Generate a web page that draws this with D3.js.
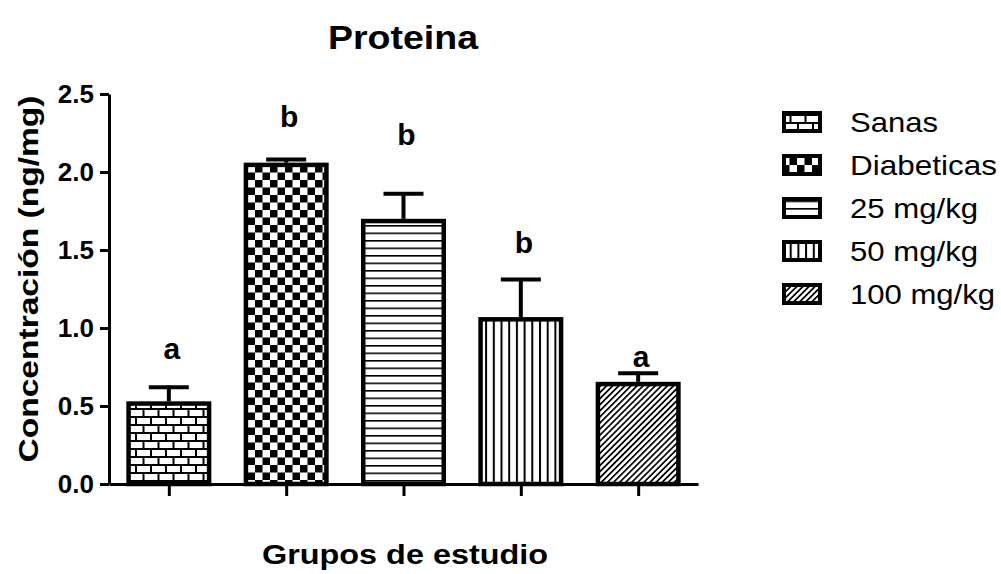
<!DOCTYPE html>
<html>
<head>
<meta charset="utf-8">
<script src="https://cdn.jsdelivr.net/npm/d3@7"></script>
<style>
  html, body { margin: 0; padding: 0; background: #fff; }
  svg { display: block; }
  text { font-family: "Liberation Sans", Arial, sans-serif; fill: #000; }
</style>
</head>
<body>
<svg id="chart" width="1001" height="574"></svg>
<script>
// ---- data ----
const categories = ["Sanas", "Diabeticas", "25 mg/kg", "50 mg/kg", "100 mg/kg"];
const means      = [0.53, 2.06, 1.70, 1.07, 0.655];
const sems       = [0.10, 0.03, 0.17, 0.25, 0.065];
const letters    = ["a", "b", "b", "b", "a"];
const letterAt   = [0.80, 2.29, 2.17, 1.48, 0.75];   // letter baseline, in data units
const yTicks     = [0, 0.5, 1.0, 1.5, 2.0, 2.5];
const patterns   = ["brick", "checker", "hlines", "vlines", "diag"];

const title  = "Proteina";
const yLabel = "Concentración (ng/mg)";
const xLabel = "Grupos de estudio";

// ---- layout ----
const svg = d3.select("#chart");
const X0 = 109, X1 = 698, Y0 = 484, Y1 = 94;

const y = d3.scaleLinear().domain([0, 2.5]).range([Y0, Y1]);
const x = d3.scalePoint().domain(categories).range([X0, X1]).padding(0.51);

// ---- patterns ----
const defs = svg.append("defs");
function pat(id, w, h, transform) {
  const p = defs.append("pattern").attr("id", id)
    .attr("patternUnits", "userSpaceOnUse").attr("width", w).attr("height", h);
  if (transform) p.attr("patternTransform", transform);
  p.append("rect").attr("width", w).attr("height", h).attr("fill", "#fff");
  return p;
}
// brick
{
  const p = pat("brick", 15, 16);
  p.append("rect").attr("x", 0).attr("y", 0).attr("width", 15).attr("height", 2).attr("fill", "#000");
  p.append("rect").attr("x", 0).attr("y", 8).attr("width", 15).attr("height", 2).attr("fill", "#000");
  p.append("rect").attr("x", 0).attr("y", 0).attr("width", 2).attr("height", 8).attr("fill", "#000");
  p.append("rect").attr("x", 7.5).attr("y", 8).attr("width", 2).attr("height", 8).attr("fill", "#000");
}
// checker
{
  const p = pat("checker", 15, 15);
  p.append("rect").attr("x", 0).attr("y", 0).attr("width", 7.5).attr("height", 7.5).attr("fill", "#000");
  p.append("rect").attr("x", 7.5).attr("y", 7.5).attr("width", 7.5).attr("height", 7.5).attr("fill", "#000");
}
// horizontal lines
{
  const p = pat("hlines", 10, 7.5);
  p.append("rect").attr("x", 0).attr("y", 0).attr("width", 10).attr("height", 1.6).attr("fill", "#000");
}
// vertical lines
{
  const p = pat("vlines", 7.7, 10);
  p.append("rect").attr("x", 0).attr("y", 0).attr("width", 2).attr("height", 10).attr("fill", "#000");
}
// diagonal
{
  const p = pat("diag", 4.3, 10, "rotate(45)");
  p.append("rect").attr("x", 0).attr("y", 0).attr("width", 1.7).attr("height", 10).attr("fill", "#000");
}

// ---- bars ----
const barW = 85, bsw = 4.5;
const g = svg.append("g");
g.selectAll("rect.bar").data(categories).join("rect")
  .attr("class", "bar")
  .attr("x", d => x(d) - barW / 2 + bsw / 2)
  .attr("width", barW - bsw)
  .attr("y", (d, i) => y(means[i]) + bsw / 2)
  .attr("height", (d, i) => Y0 - y(means[i]) - bsw / 2)
  .attr("fill", (d, i) => `url(#${patterns[i]})`)
  .attr("stroke", "#000").attr("stroke-width", bsw);

// error bars
const capW = 40, esw = 4;
g.selectAll("line.err").data(categories).join("line")
  .attr("x1", d => x(d)).attr("x2", d => x(d))
  .attr("y1", (d, i) => y(means[i]))
  .attr("y2", (d, i) => y(means[i] + sems[i]))
  .attr("stroke", "#000").attr("stroke-width", esw);
g.selectAll("line.cap").data(categories).join("line")
  .attr("x1", d => x(d) - capW / 2).attr("x2", d => x(d) + capW / 2)
  .attr("y1", (d, i) => y(means[i] + sems[i]) + esw / 2 - 0.5)
  .attr("y2", (d, i) => y(means[i] + sems[i]) + esw / 2 - 0.5)
  .attr("stroke", "#000").attr("stroke-width", esw);

// letters
g.selectAll("text.letter").data(categories).join("text")
  .attr("x", d => x(d) + 3)
  .attr("y", (d, i) => y(letterAt[i]))
  .attr("text-anchor", "middle")
  .attr("font-weight", "bold").attr("font-size", 30)
  .text((d, i) => letters[i]);

// ---- axes ----
const yAxis = svg.append("g").attr("transform", `translate(${X0},0)`)
  .call(d3.axisLeft(y).tickValues(yTicks).tickFormat(d3.format(".1f")).tickSize(9).tickSizeOuter(0).tickPadding(6));
yAxis.select(".domain").attr("stroke-width", 3);
yAxis.selectAll(".tick line").attr("stroke-width", 3);
yAxis.selectAll(".tick text").attr("font-size", 26).attr("font-weight", "bold")
  .attr("font-family", "'Liberation Sans', Arial, sans-serif").attr("fill", "#000");

const xAxis = svg.append("g").attr("transform", `translate(0,${Y0})`)
  .call(d3.axisBottom(x).tickFormat("").tickSize(12).tickSizeOuter(0));
xAxis.select(".domain").attr("stroke-width", 3);
xAxis.selectAll(".tick line").attr("stroke-width", 3);

// ---- titles ----
svg.append("text").attr("x", 403).attr("y", 49).attr("text-anchor", "middle")
  .attr("font-weight", "bold").attr("font-size", 34)
  .attr("textLength", 150).attr("lengthAdjust", "spacingAndGlyphs").text(title);
svg.append("text").attr("x", 405).attr("y", 564).attr("text-anchor", "middle")
  .attr("font-weight", "bold").attr("font-size", 28)
  .attr("textLength", 286).attr("lengthAdjust", "spacingAndGlyphs").text(xLabel);
svg.append("text").attr("transform", "translate(38,279) rotate(-90)").attr("text-anchor", "middle")
  .attr("font-weight", "bold").attr("font-size", 28)
  .attr("textLength", 367).attr("lengthAdjust", "spacingAndGlyphs").text(yLabel);

// ---- legend ----
const legendWidths = [88, 147, 128, 128, 145];
const lg = svg.append("g");
const rows = lg.selectAll("g").data(categories).join("g")
  .attr("transform", (d, i) => `translate(782,${122 + i * 43})`);
rows.append("rect").attr("x", 2).attr("y", -9).attr("width", 36).attr("height", 18)
  .attr("fill", (d, i) => `url(#${patterns[i]})`).attr("stroke", "#000").attr("stroke-width", 4);
rows.append("text").attr("x", 68).attr("y", 10)
  .attr("font-size", 28)
  .attr("textLength", (d, i) => legendWidths[i]).attr("lengthAdjust", "spacingAndGlyphs")
  .text(d => d);
</script>
</body>
</html>
